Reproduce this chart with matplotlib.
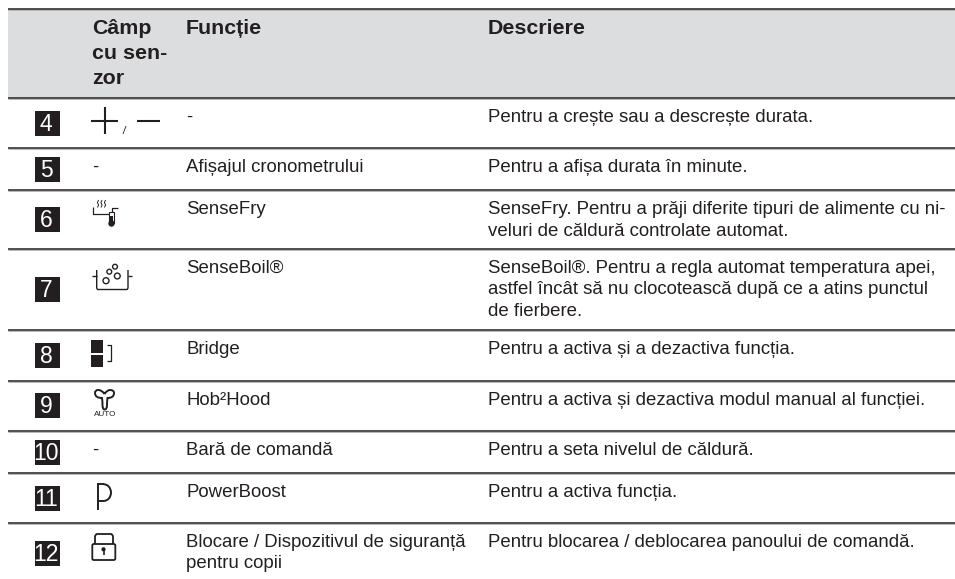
#!/usr/bin/env python3
"""plot.py - control panel table, drawn on a pixel-sized axes."""
import matplotlib
matplotlib.use("Agg")
import matplotlib.pyplot as plt
from matplotlib.patches import Rectangle, Circle, FancyBboxPatch, PathPatch, Arc
from matplotlib.path import Path

INK = "#231f20"
HEAD_BG = "#dcddde"

headers = ["Câmp\ncu sen-\nzor", "Funcție", "Descriere"]
row_numbers = ["4", "5", "6", "7", "8", "9", "10", "11", "12"]
sensor_text = ["", "-", "", "", "", "", "-", "", ""]
functions = [
    "-",
    "Afișajul cronometrului",
    "SenseFry",
    "SenseBoil®",
    "Bridge",
    "Hob²Hood",
    "Bară de comandă",
    "PowerBoost",
    "Blocare / Dispozitivul de siguranță\npentru copii",
]
descriptions = [
    "Pentru a crește sau a descrește durata.",
    "Pentru a afișa durata în minute.",
    "SenseFry. Pentru a prăji diferite tipuri de alimente cu ni-\nveluri de căldură controlate automat.",
    "SenseBoil®. Pentru a regla automat temperatura apei,\nastfel încât să nu clocotească după ce a atins punctul\nde fierbere.",
    "Pentru a activa și a dezactiva funcția.",
    "Pentru a activa și dezactiva modul manual al funcției.",
    "Pentru a seta nivelul de căldură.",
    "Pentru a activa funcția.",
    "Pentru blocarea / deblocarea panoului de comandă.",
]

# layout, in pixels
rule_y = [9, 98, 148, 190, 249, 330, 381, 431, 472.5, 523]
box_top = [111, 157, 207, 277, 343, 393, 440, 486, 541]
baseline = [122, 171.5, 214, 273, 353.5, 405, 455, 497, 547]

plt.rcParams["font.family"] = ["Liberation Sans", "DejaVu Sans"]

fig = plt.figure(figsize=(9.55, 5.79), dpi=100)
ax = fig.add_axes([0, 0, 1, 1])
ax.set_xlim(0, 955)
ax.set_ylim(579, 0)
ax.axis("off")

ax.add_patch(Rectangle((8, rule_y[0]), 947, rule_y[1] - rule_y[0], fc=HEAD_BG, ec="none"))
for y in rule_y:
    ax.plot([8, 955], [y + 1.2, y + 1.2], color="#b5b5b5", lw=0.7, solid_capstyle="butt")
    ax.plot([8, 955], [y, y], color=INK, lw=1.1, solid_capstyle="butt")

BODY = 13.45
HEAD = 15.4
STEP = 21.5


def put_lines(x, y, s, size, step, **kw):
    for k, part in enumerate(s.split("\n")):
        ax.text(x, y + k * step, part, fontsize=size, color=INK, va="baseline", **kw)


for x, head in zip([92, 186, 488], headers):
    put_lines(x, 34.5, head, HEAD, 24.5, fontweight="bold")

for i, num in enumerate(row_numbers):
    top = box_top[i]
    ax.add_patch(Rectangle((35, top), 25, 25, fc=INK, ec="none"))
    ax.text(46, top + 20, num, color="white", fontsize=16.5, ha="center", va="baseline")
    if sensor_text[i]:
        put_lines(92, baseline[i], sensor_text[i], BODY, STEP)
    put_lines(186, baseline[i], functions[i], BODY, STEP)
    put_lines(488, baseline[i], descriptions[i], BODY, STEP)


def ln(xs, ys, lw=1.1):
    ax.plot(xs, ys, color=INK, lw=lw, solid_capstyle="butt", solid_joinstyle="round")


# plus / minus
ln([91, 118], [120.5, 120.5], 1.5)
ln([104.5, 104.5], [107, 134], 1.5)
ln([123, 126], [134, 126], 0.6)
ln([137, 160], [120.5, 120.5], 1.5)

# SenseFry: pan with steam and thermometer
ln([92.5, 92.5, 108.5], [207, 213.5, 213.5], 0.9)
ln([112, 112, 118], [212, 207.5, 207.5], 0.9)
ax.add_patch(Rectangle((109, 212), 5, 11, fc="white", ec=INK, lw=0.8))
ax.add_patch(Rectangle((110, 216), 3, 8, fc=INK, ec="none"))
ax.add_patch(Circle((111.5, 223.5), 3.2, fc=INK, ec="none"))
for x in [98, 101.5, 105]:
    ln([x + 0.6, x - 0.6, x + 0.6, x - 0.6], [200, 202.5, 205, 207.5], 0.7)

# SenseBoil: pot with bubbles
ln([91.5, 96.7], [276, 276], 1.0)
ln([128, 131.7], [276, 276], 1.0)
ln([96.7, 96.7, 97.5, 127.2, 128, 128], [270, 288, 289.5, 289.5, 288, 270], 1.0)
for cx, cy, r in [(106, 280.7, 3), (109.3, 271.7, 2.4), (115, 266.7, 2.4), (117.3, 276, 2.9)]:
    ax.add_patch(Circle((cx, cy), r, fc="white", ec=INK, lw=1.0))

# Bridge
ax.add_patch(Rectangle((91, 340), 12, 13, fc=INK, ec="none"))
ax.add_patch(Rectangle((91, 355), 12, 12, fc=INK, ec="none"))
ln([106.5, 110.5, 110.5, 106.5], [345, 345, 361, 361], 0.9)

# Hob2Hood: fan blade and AUTO
fan = Path(
    [(104.5, 394), (102, 390), (98, 390), (95, 390), (95, 393),
     (95, 398), (102, 398), (102.5, 401), (102.5, 405),
     (102.5, 409.5), (104.7, 409.5), (107, 409.5), (107, 405),
     (107, 401), (107.5, 398), (114, 398), (114, 393),
     (114, 390), (110, 390), (107, 390), (104.5, 394)],
    [Path.MOVETO] + [Path.CURVE3] * 20,
)
ax.add_patch(PathPatch(fan, fc="white", ec=INK, lw=1.4))
ax.text(105, 414, "AUTO", fontsize=5.9, color=INK, ha="center", va="center")

# PowerBoost
ln([97.5, 97.5], [483, 509.5], 1.4)
ln([97.5, 103.5], [484.2, 484.2], 1.4)
ln([97.5, 103.5], [501, 501], 1.4)
ax.add_patch(Arc((103.5, 492.6), 15, 16.8, theta1=-90, theta2=90, ec=INK, lw=1.4))

# lock
ax.add_patch(FancyBboxPatch((92.3, 544), 23, 16, boxstyle="round,pad=0,rounding_size=1.5",
                            fc="white", ec=INK, lw=1.3))
ln([95, 95, 96.5, 111.5, 113, 113], [544, 536, 534, 534, 536, 544], 1.3)
ax.add_patch(Circle((103.5, 549.3), 2.1, fc=INK, ec="none"))
ln([103.5, 103.5], [550, 555], 1.2)

fig.savefig("out.png", dpi=100)
